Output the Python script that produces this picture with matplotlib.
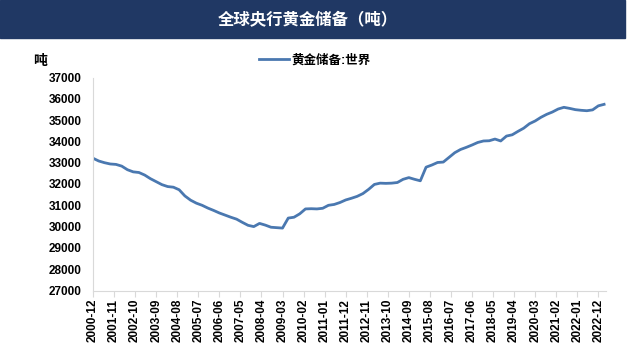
import matplotlib
matplotlib.use('Agg')
import matplotlib.pyplot as plt
import pandas as pd

plt.rcParams['font.family'] = ['Liberation Sans', 'Noto Sans CJK SC', 'DejaVu Sans']

# quarterly gold reserves of world central banks (tonnes), 2000-12 .. 2023-03
quarters = pd.date_range('2000-12-01', '2023-03-01', freq='3MS')
reserves = [
    33210, 33080, 33000, 32940, 32920, 32840, 32670, 32570, 32540, 32420,
    32250, 32110, 31970, 31880, 31850, 31730, 31440, 31240, 31100, 31000,
    30870, 30760, 30640, 30540, 30440, 30350, 30200, 30060, 30000, 30150,
    30070, 29970, 29950, 29930, 30400, 30440, 30600, 30830, 30840, 30830,
    30860, 31000, 31040, 31130, 31250, 31330, 31420, 31550, 31750, 31980,
    32040, 32030, 32040, 32070, 32220, 32300, 32220, 32150, 32790, 32890,
    33010, 33030, 33250, 33470, 33620, 33720, 33830, 33950, 34020, 34030,
    34110, 34020, 34250, 34310, 34470, 34620, 34830, 34960, 35130, 35270,
    35380, 35520, 35600, 35550, 35490, 35460, 35440, 35480, 35670, 35740,
]

# monthly category axis, a label every 11 months
months = pd.date_range('2000-12-01', '2023-03-01', freq='MS')
tick_idx = list(range(0, len(months), 11))
tick_labels = [months[i].strftime('%Y-%m') for i in tick_idx]

start = quarters[0]
x = [(d.year - start.year) * 12 + (d.month - start.month) for d in quarters]

fig = plt.figure(figsize=(6.4, 3.53), dpi=100)

# title banner
banner = plt.Rectangle((0, 1 - 37.5 / 353), 625 / 640, 37.5 / 353,
                       transform=fig.transFigure, color='#203864', zorder=0)
fig.patches.append(banner)
fig.text(308 / 640, 1 - 20 / 353, '全球央行黄金储备（吨）', color='white',
         fontsize=11.8, fontweight='bold', ha='center', va='center')

ax = fig.add_axes([93 / 640, 1 - 290.5 / 353, (606 - 93) / 640, (290.5 - 77.5) / 353])
line, = ax.plot(x, reserves, color='#4A78B0', linewidth=2.0, label='黄金储备:世界')

ax.set_ylim(27000, 37000)
ax.set_yticks(range(27000, 37001, 1000))
ax.set_xlim(0, 268)
ax.set_xticks(tick_idx)
ax.set_xticklabels(tick_labels, rotation=90)

for lab in ax.get_yticklabels() + ax.get_xticklabels():
    lab.set_fontweight('bold')
    lab.set_fontsize(8.5)

for s in ['top', 'right']:
    ax.spines[s].set_visible(False)
for s in ['left', 'bottom']:
    ax.spines[s].set_color('#d9d9d9')
    ax.spines[s].set_linewidth(0.8)
ax.tick_params(axis='y', length=0, pad=8)
ax.tick_params(axis='x', length=4, color='#d9d9d9', pad=2)

fig.text(40 / 640, 1 - 61 / 353, '吨', fontsize=10, fontweight='bold',
         ha='center', va='center')

fig.legend(handles=[line], loc='center', bbox_to_anchor=(315 / 640, 1 - 60 / 353),
           frameon=False, prop={'weight': 'bold', 'size': 9},
           handlelength=2.4, handletextpad=0.2)

fig.savefig('out.png', dpi=100)
